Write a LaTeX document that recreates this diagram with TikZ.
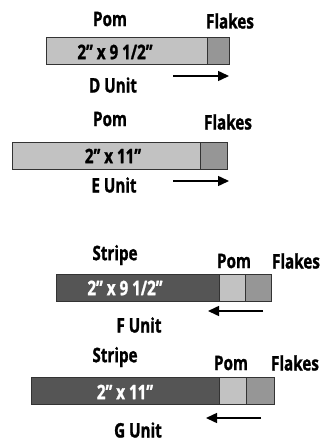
\documentclass[tikz,border=0pt]{standalone}
\usepackage{fontspec}
\setmainfont{Open Sans}[FakeStretch=0.76, BoldFeatures={FakeBold=1.2}]
\usetikzlibrary{arrows.meta}
\definecolor{lightbar}{HTML}{C2C2C2}
\definecolor{flake}{HTML}{969696}
\definecolor{stripe}{HTML}{555555}
\definecolor{edge}{HTML}{333333}
\tikzset{
  seg/.style={draw=edge, line width=1pt, inner sep=0pt, minimum height=27pt, rectangle},
  lbl/.style={font=\fontsize{20}{22}\selectfont\bfseries, text=black, inner sep=0pt},
  inlbl/.style={font=\fontsize{20}{22}\selectfont\bfseries, inner sep=0pt},
  dirarrow/.style={line width=1.5pt, -{Triangle[length=11pt,width=10pt]}}
}
\begin{document}
\begin{tikzpicture}[x=1pt,y=-1pt]
\useasboundingbox (0,0) rectangle (324,441);
% D Unit
\node[seg, fill=lightbar, minimum width=161pt] (dpom) at (126.5,51.5) {};
\node[seg, fill=flake, minimum width=22pt] (dfl) at (218,51.5) {};
\node[inlbl] (dtxt) at (115,52) {2” x 9 1/2”};
\node[lbl] (dpoml) at (110,19) {Pom};
\node[lbl] (dfll) at (230,21) {Flakes};
\node[lbl] (dname) at (113,85) {D Unit};
\coordinate (da) at (173,76);
\coordinate (db) at (229,76);
\draw[dirarrow] (da) -- (db);
% E Unit
\node[seg, fill=lightbar, minimum width=188pt] (epom) at (106,155.5) {};
\node[seg, fill=flake, minimum width=27pt] (efl) at (213.5,155.5) {};
\node[inlbl] (etxt) at (113,156) {2” x 11”};
\node[lbl] (epoml) at (110,119) {Pom};
\node[lbl] (efll) at (228,122) {Flakes};
\node[lbl] (ename) at (114,185) {E Unit};
\coordinate (ea) at (173,181);
\coordinate (eb) at (229,181);
\draw[dirarrow] (ea) -- (eb);
% F Unit
\node[seg, fill=stripe, minimum width=163pt] (fst) at (137.5,287.5) {};
\node[seg, fill=lightbar, minimum width=26pt] (fpom) at (232,287.5) {};
\node[seg, fill=flake, minimum width=26pt] (ffl) at (258,287.5) {};
\node[inlbl, text=white] (ftxt) at (125,288) {2” x 9 1/2”};
\node[lbl] (fstl) at (115,255) {Stripe};
\node[lbl] (fpoml) at (234,261) {Pom};
\node[lbl] (ffll) at (296,261) {Flakes};
\node[lbl] (fname) at (139,325) {F Unit};
\coordinate (fa) at (263,311);
\coordinate (fb) at (208,311);
\draw[dirarrow] (fa) -- (fb);
% G Unit
\node[seg, fill=stripe, minimum width=188pt] (gst) at (125,390.5) {};
\node[seg, fill=lightbar, minimum width=27pt] (gpom) at (232.5,390.5) {};
\node[seg, fill=flake, minimum width=28pt] (gfl) at (260,390.5) {};
\node[inlbl, text=white] (gtxt) at (125,392) {2” x 11”};
\node[lbl] (gstl) at (115,357) {Stripe};
\node[lbl] (gpoml) at (231,363) {Pom};
\node[lbl] (gfll) at (295,363) {Flakes};
\node[lbl] (gname) at (138,430) {G Unit};
\coordinate (ga) at (261,418);
\coordinate (gb) at (206,418);
\draw[dirarrow] (ga) -- (gb);
\end{tikzpicture}
\end{document}
